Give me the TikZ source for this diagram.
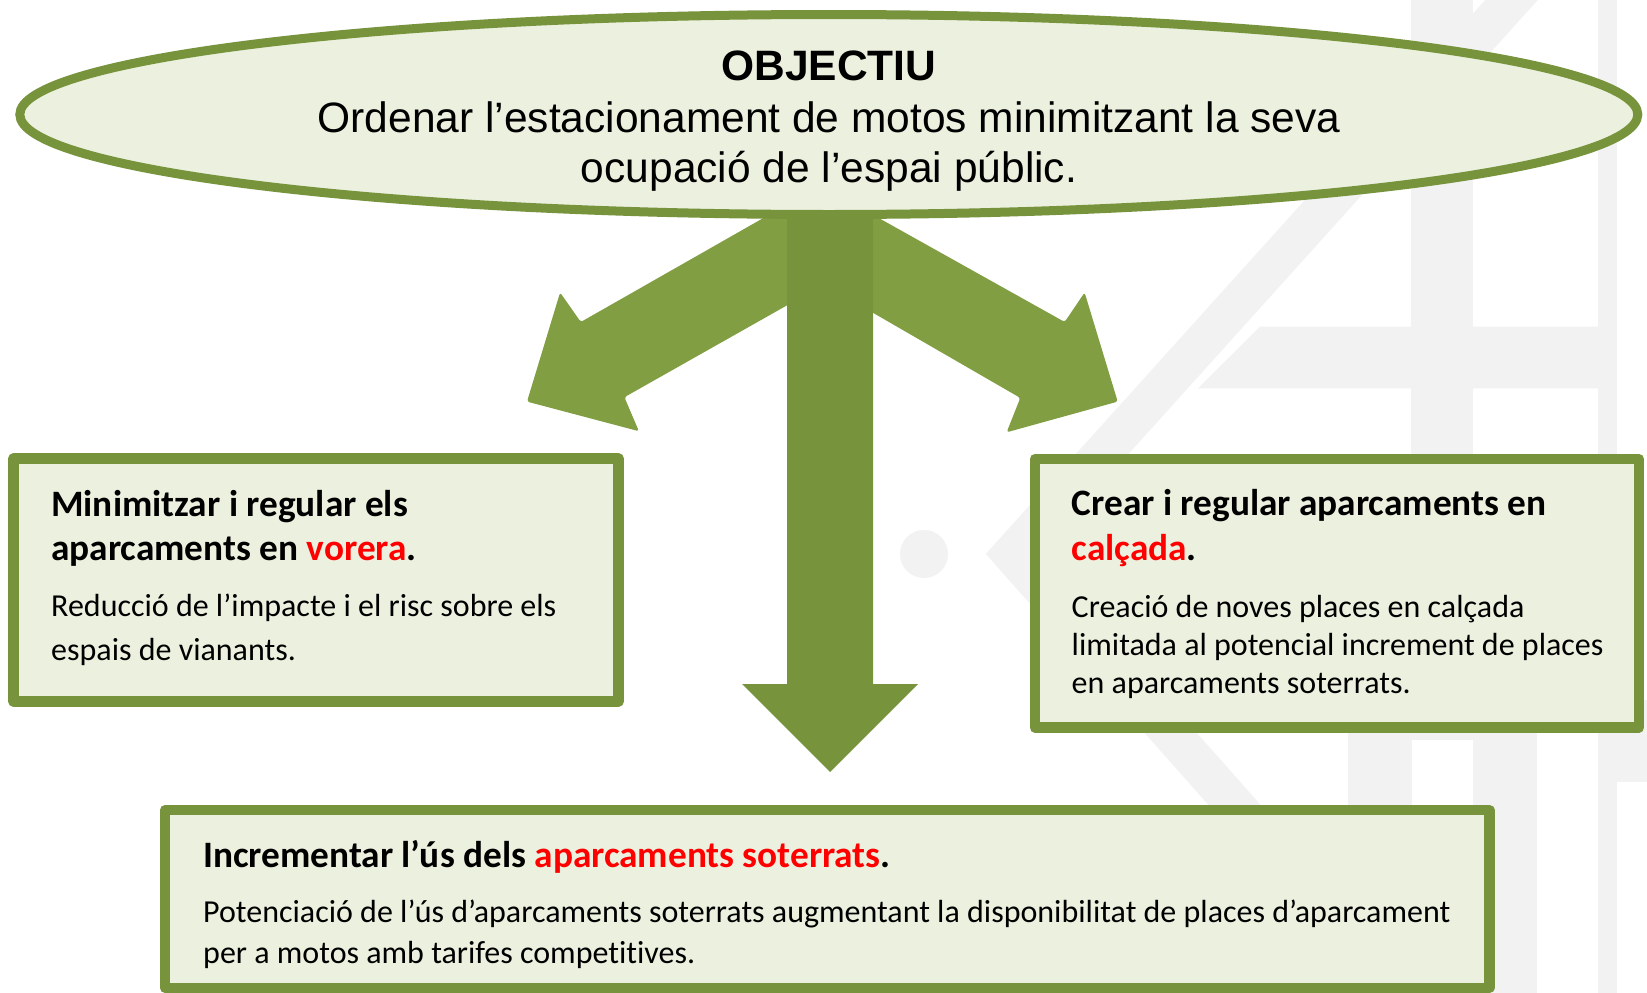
\documentclass[tikz,border=0pt]{standalone}
\usepackage{fontspec}
\setmainfont{Carlito}[Ligatures={NoCommon}]
\newfontfamily\arialf{Liberation Sans}
\definecolor{oliveD}{RGB}{119,147,60}
\definecolor{oliveL}{RGB}{129,158,67}
\definecolor{paleG}{RGB}{235,241,222}
\definecolor{wm}{RGB}{242,242,242}
\definecolor{redT}{RGB}{255,0,0}
\begin{document}
\begin{tikzpicture}[x=1pt,y=-1pt,
  box/.style={draw=oliveD, fill=paleG, line width=10.5pt, line join=round, rectangle, inner sep=0pt},
  tl/.style={inner sep=0pt, anchor=base, font=\arialf\fontsize{42.5}{50}\selectfont},
  hd/.style={inner sep=0pt, anchor=base west, font=\fontsize{37.3}{44}\selectfont\bfseries},
  bd/.style={inner sep=0pt, anchor=base west, font=\fontsize{32}{40}\selectfont},
  sidearrow/.style={fill=oliveL, rounded corners=2.5pt},
  wmk/.style={fill=wm}]
\useasboundingbox (0,0) rectangle (1647,993);
\fill[white] (0,0) rectangle (1647,993);
% watermark
\draw[wm, line width=39pt, line join=miter] (1525,-15) -- (1012,554) -- (1310,890);
\fill[wmk] (1198,388.3) -- (1260,326.7) -- (1600,326.7) -- (1600,388.3) -- cycle;
\fill[wmk] (1411,0) rectangle (1473,740);
\fill[wmk] (1598,0) rectangle (1617,993);
\fill[wmk] (1348,730) rectangle (1412,993);
\fill[wmk] (1473,730) rectangle (1537,993);
\fill[wmk] (1598,700) rectangle (1647,782);
\fill[wmk] (924,554) circle[radius=24pt];
% arrows
\fill[sidearrow] (795,200) -- (580.8,322) -- (560.1,292.5) -- (527,401.6) -- (638.9,431.2) -- (624.4,397.2) -- (800,298) -- cycle;
\fill[sidearrow] (846.5,200) -- (1064.7,322) -- (1084.6,292.5) -- (1117.7,401.6) -- (1006.6,432.3) -- (1020.3,397.9) -- (860,305.3) -- cycle;
\fill[oliveD] (787,200) -- (873,200) -- (873,684) -- (918,684) -- (830,772) -- (742,684) -- (787,684) -- cycle;
% objective ellipse
\draw[draw=oliveD, fill=paleG, line width=9pt] (828.8,114.5) ellipse [x radius=809pt, y radius=100pt];
\node[tl] (t1) at (829,80.5) {\bfseries OBJECTIU};
\node[tl] (t2) at (829,132.4) {Ordenar l’estacionament de motos minimitzant la seva};
\node[tl] (t3) at (829,182.8) {ocupació de l’espai públic.};
% boxes
\node[box, minimum width=605pt, minimum height=243pt] (lbox) at (316,580) {};
\node[box, minimum width=604pt, minimum height=268.5pt] (rbox) at (1336.85,593.25) {};
\node[box, minimum width=1324.3pt, minimum height=177.7pt] (bbox) at (827.2,899) {};
% left box text
\node[hd] (lh1) at (51,516.7) {Minimitzar i regular els};
\node[hd] (lh2) at (51,560) {aparcaments en \textcolor{redT}{vorera}.};
\node[bd] (lb1) at (51,616.7) {Reducció de l’impacte i el risc sobre els};
\node[bd] (lb2) at (51,660) {espais de vianants.};
% right box text
\node[hd] (rh1) at (1071.5,515.8) {Crear i regular aparcaments en};
\node[hd] (rh2) at (1071.5,560.8) {\textcolor{redT}{calçada}.};
\node[bd] (rb1) at (1071.5,617.5) {Creació de noves places en calçada};
\node[bd] (rb2) at (1071.5,655.8) {limitada al potencial increment de places};
\node[bd] (rb3) at (1071.5,693.1) {en aparcaments soterrats.};
% bottom box text
\node[hd] (bh1) at (203,867.5) {Incrementar l’ús dels \textcolor{redT}{aparcaments soterrats}.};
\node[bd] (bb1) at (203,922.8) {Potenciació de l’ús d’aparcaments soterrats augmentant la disponibilitat de places d’aparcament};
\node[bd] (bb2) at (203,963) {per a motos amb tarifes competitives.};
\end{tikzpicture}
\end{document}
